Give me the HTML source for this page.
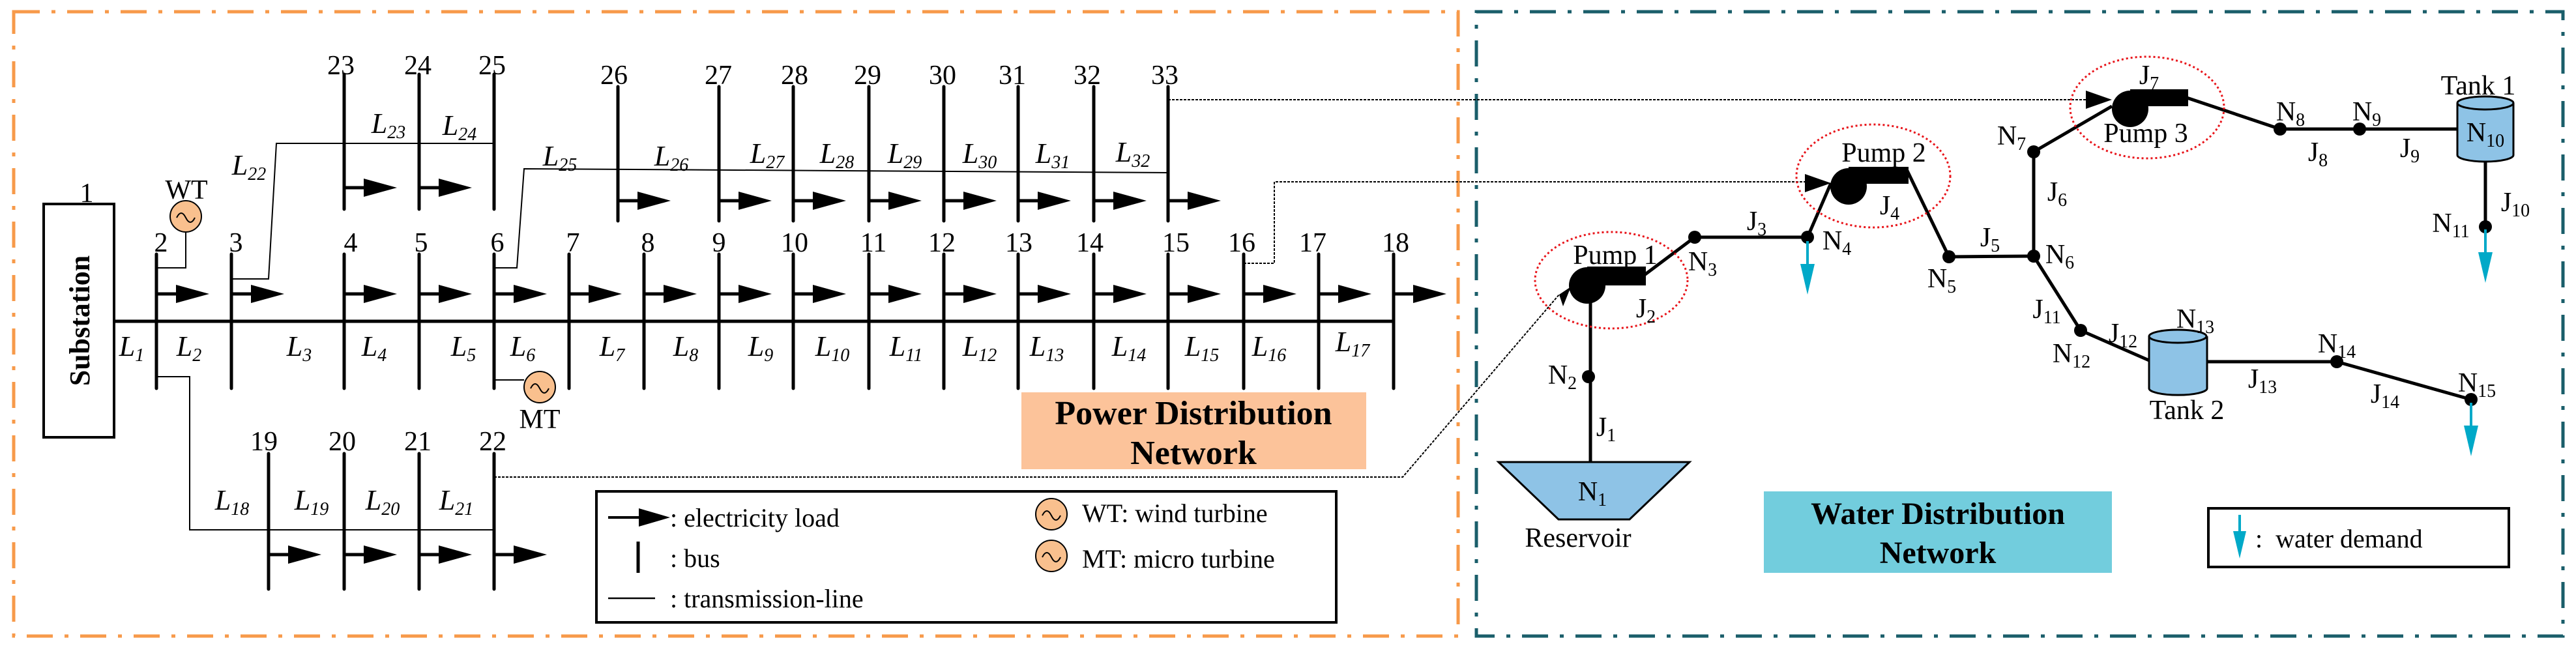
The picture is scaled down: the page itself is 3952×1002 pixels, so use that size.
<!DOCTYPE html>
<html><head><meta charset="utf-8"><style>
html,body{margin:0;padding:0;background:#fff;}
svg{display:block;}
text{font-family:"Liberation Serif",serif;fill:#000;}
.n{font-size:42px;text-anchor:middle;}
.L{font-size:44px;font-style:italic;text-anchor:middle;}
.w{font-size:42px;text-anchor:middle;}
.lg{font-size:40px;}
</style></head><body>
<svg width="3952" height="1002" viewBox="0 0 3952 1002" xmlns="http://www.w3.org/2000/svg">
<defs>
<g id="ar"><line x1="0" y1="0" x2="32" y2="0" stroke="#000" stroke-width="5"/><polygon points="30,-14 81,0 30,14" fill="#000"/></g>
<g id="wd"><line x1="0" y1="0" x2="0" y2="40" stroke="#00a9c8" stroke-width="4"/><polygon points="-11,35 11,35 0,82" fill="#00a9c8"/></g>
</defs>
<rect x="21" y="18" width="2216" height="958" fill="none" stroke="#f79a4a" stroke-width="5" stroke-dasharray="40,18,6,18"/>
<rect x="2265" y="18" width="1667" height="958" fill="none" stroke="#1a5e6a" stroke-width="5" stroke-dasharray="40,18,6,18"/>

<rect x="67" y="313" width="108" height="358" fill="#fff" stroke="#000" stroke-width="4"/>
<text x="0" y="0" transform="translate(137,492) rotate(-90)" style="font-size:44px;font-weight:bold;text-anchor:middle">Substation</text>
<text class="n" x="133" y="310">1</text>

<line x1="175" y1="493" x2="2138" y2="493" stroke="#000" stroke-width="5"/>
<polyline points="240,411 285,411 285,356" fill="none" stroke="#000" stroke-width="2"/>
<polyline points="240,578 291,578 291,813 758,813" fill="none" stroke="#000" stroke-width="2"/>
<polyline points="355,428 412,428 424,220 758,220" fill="none" stroke="#000" stroke-width="2"/>
<polyline points="758,411 793,411 804,259 1792,265" fill="none" stroke="#000" stroke-width="2"/>
<polyline points="758,583 804,583" fill="none" stroke="#000" stroke-width="2"/>
<g fill="none" stroke="#000" stroke-width="2" stroke-dasharray="4,2">
<polyline points="758,732 2152,732 2392,452"/>
<polyline points="1908,404 1955,404 1955,279 2770,279"/>
<polyline points="1792,153 3202,153"/>
</g>

<g stroke="#000" stroke-width="5" stroke-linecap="round">
<line x1="240" y1="390" x2="240" y2="596"/><line x1="355" y1="390" x2="355" y2="596"/>
<line x1="528" y1="390" x2="528" y2="596"/><line x1="643" y1="390" x2="643" y2="596"/>
<line x1="758" y1="390" x2="758" y2="596"/><line x1="873" y1="390" x2="873" y2="596"/>
<line x1="988" y1="390" x2="988" y2="596"/><line x1="1103" y1="390" x2="1103" y2="596"/>
<line x1="1217" y1="390" x2="1217" y2="596"/><line x1="1333" y1="390" x2="1333" y2="596"/>
<line x1="1448" y1="390" x2="1448" y2="596"/><line x1="1562" y1="390" x2="1562" y2="596"/>
<line x1="1678" y1="390" x2="1678" y2="596"/><line x1="1792" y1="390" x2="1792" y2="596"/>
<line x1="1908" y1="390" x2="1908" y2="596"/><line x1="2023" y1="390" x2="2023" y2="596"/>
<line x1="2138" y1="390" x2="2138" y2="596"/>
<line x1="528" y1="114" x2="528" y2="321"/><line x1="643" y1="114" x2="643" y2="321"/><line x1="758" y1="114" x2="758" y2="321"/>
<line x1="948" y1="133" x2="948" y2="339"/><line x1="1103" y1="133" x2="1103" y2="339"/>
<line x1="1217" y1="133" x2="1217" y2="339"/><line x1="1333" y1="133" x2="1333" y2="339"/>
<line x1="1448" y1="133" x2="1448" y2="339"/><line x1="1562" y1="133" x2="1562" y2="339"/>
<line x1="1678" y1="133" x2="1678" y2="339"/><line x1="1792" y1="133" x2="1792" y2="339"/>
<line x1="412" y1="696" x2="412" y2="904"/><line x1="528" y1="696" x2="528" y2="904"/>
<line x1="643" y1="696" x2="643" y2="904"/><line x1="758" y1="696" x2="758" y2="904"/>
</g>
<use href="#ar" x="240" y="451"/><use href="#ar" x="355" y="451"/><use href="#ar" x="528" y="451"/>
<use href="#ar" x="643" y="451"/><use href="#ar" x="758" y="451"/><use href="#ar" x="873" y="451"/>
<use href="#ar" x="988" y="451"/><use href="#ar" x="1103" y="451"/><use href="#ar" x="1217" y="451"/>
<use href="#ar" x="1333" y="451"/><use href="#ar" x="1448" y="451"/><use href="#ar" x="1562" y="451"/>
<use href="#ar" x="1678" y="451"/><use href="#ar" x="1792" y="451"/><use href="#ar" x="1908" y="451"/>
<use href="#ar" x="2023" y="451"/><use href="#ar" x="2138" y="451"/>
<use href="#ar" x="528" y="288"/><use href="#ar" x="643" y="288"/>
<use href="#ar" x="948" y="308"/><use href="#ar" x="1103" y="308"/><use href="#ar" x="1217" y="308"/>
<use href="#ar" x="1333" y="308"/><use href="#ar" x="1448" y="308"/><use href="#ar" x="1562" y="308"/>
<use href="#ar" x="1678" y="308"/><use href="#ar" x="1792" y="308"/>
<use href="#ar" x="412" y="851"/><use href="#ar" x="528" y="851"/><use href="#ar" x="643" y="851"/><use href="#ar" x="758" y="851"/>

<circle cx="285" cy="332" r="24" fill="#f9c08e" stroke="#000" stroke-width="2"/>
<path d="M271,334 q7,-14 14,0 q7,14 14,0" fill="none" stroke="#000" stroke-width="2"/>
<text class="n" x="286" y="305">WT</text>
<circle cx="828" cy="594" r="24" fill="#f9c08e" stroke="#000" stroke-width="2"/>
<path d="M814,596 q7,-14 14,0 q7,14 14,0" fill="none" stroke="#000" stroke-width="2"/>
<text class="n" x="828" y="657">MT</text>

<g>
<text class="n" x="247" y="386">2</text><text class="n" x="362" y="386">3</text><text class="n" x="538" y="386">4</text>
<text class="n" x="646" y="386">5</text><text class="n" x="763" y="386">6</text><text class="n" x="879" y="386">7</text>
<text class="n" x="994" y="386">8</text><text class="n" x="1103" y="386">9</text><text class="n" x="1219" y="386">10</text>
<text class="n" x="1340" y="386">11</text><text class="n" x="1445" y="386">12</text><text class="n" x="1563" y="386">13</text>
<text class="n" x="1672" y="386">14</text><text class="n" x="1804" y="386">15</text><text class="n" x="1905" y="386">16</text>
<text class="n" x="2014" y="386">17</text><text class="n" x="2141" y="386">18</text>
<text class="n" x="523" y="114">23</text><text class="n" x="641" y="114">24</text><text class="n" x="755" y="114">25</text>
<text class="n" x="942" y="129">26</text><text class="n" x="1102" y="129">27</text><text class="n" x="1219" y="129">28</text>
<text class="n" x="1331" y="129">29</text><text class="n" x="1446" y="129">30</text><text class="n" x="1553" y="129">31</text>
<text class="n" x="1668" y="129">32</text><text class="n" x="1787" y="129">33</text>
<text class="n" x="405" y="691">19</text><text class="n" x="525" y="691">20</text><text class="n" x="641" y="691">21</text><text class="n" x="756" y="691">22</text>
</g>

<g>
<text class="L" x="202" y="546">L<tspan font-size="28" dy="8">1</tspan></text>
<text class="L" x="290" y="546">L<tspan font-size="28" dy="8">2</tspan></text>
<text class="L" x="459" y="546">L<tspan font-size="28" dy="8">3</tspan></text>
<text class="L" x="574" y="546">L<tspan font-size="28" dy="8">4</tspan></text>
<text class="L" x="711" y="546">L<tspan font-size="28" dy="8">5</tspan></text>
<text class="L" x="802" y="546">L<tspan font-size="28" dy="8">6</tspan></text>
<text class="L" x="939" y="546">L<tspan font-size="28" dy="8">7</tspan></text>
<text class="L" x="1052" y="546">L<tspan font-size="28" dy="8">8</tspan></text>
<text class="L" x="1167" y="546">L<tspan font-size="28" dy="8">9</tspan></text>
<text class="L" x="1277" y="546">L<tspan font-size="28" dy="8">10</tspan></text>
<text class="L" x="1390" y="546">L<tspan font-size="28" dy="8">11</tspan></text>
<text class="L" x="1503" y="546">L<tspan font-size="28" dy="8">12</tspan></text>
<text class="L" x="1606" y="546">L<tspan font-size="28" dy="8">13</tspan></text>
<text class="L" x="1732" y="546">L<tspan font-size="28" dy="8">14</tspan></text>
<text class="L" x="1844" y="546">L<tspan font-size="28" dy="8">15</tspan></text>
<text class="L" x="1947" y="546">L<tspan font-size="28" dy="8">16</tspan></text>
<text class="L" x="2075" y="539">L<tspan font-size="28" dy="8">17</tspan></text>
<text class="L" x="356" y="782">L<tspan font-size="28" dy="8">18</tspan></text>
<text class="L" x="478" y="782">L<tspan font-size="28" dy="8">19</tspan></text>
<text class="L" x="587" y="782">L<tspan font-size="28" dy="8">20</tspan></text>
<text class="L" x="700" y="782">L<tspan font-size="28" dy="8">21</tspan></text>
<text class="L" x="382" y="268">L<tspan font-size="28" dy="8">22</tspan></text>
<text class="L" x="596" y="204">L<tspan font-size="28" dy="8">23</tspan></text>
<text class="L" x="705" y="207">L<tspan font-size="28" dy="8">24</tspan></text>
<text class="L" x="859" y="254">L<tspan font-size="28" dy="8">25</tspan></text>
<text class="L" x="1030" y="254">L<tspan font-size="28" dy="8">26</tspan></text>
<text class="L" x="1177" y="250">L<tspan font-size="28" dy="8">27</tspan></text>
<text class="L" x="1284" y="250">L<tspan font-size="28" dy="8">28</tspan></text>
<text class="L" x="1388" y="250">L<tspan font-size="28" dy="8">29</tspan></text>
<text class="L" x="1503" y="250">L<tspan font-size="28" dy="8">30</tspan></text>
<text class="L" x="1615" y="250">L<tspan font-size="28" dy="8">31</tspan></text>
<text class="L" x="1738" y="248">L<tspan font-size="28" dy="8">32</tspan></text>
</g>

<rect x="1567" y="602" width="529" height="118" fill="#fcc39a"/>
<text x="1831" y="651" style="font-size:52px;font-weight:bold;text-anchor:middle">Power Distribution</text>
<text x="1831" y="712" style="font-size:52px;font-weight:bold;text-anchor:middle">Network</text>

<rect x="915" y="754" width="1135" height="201" fill="#fff" stroke="#000" stroke-width="4"/>
<line x1="933" y1="794" x2="985" y2="794" stroke="#000" stroke-width="4"/>
<polygon points="980,780 1028,794 980,808" fill="#000"/>
<text class="lg" x="1028" y="808">: electricity load</text>
<line x1="979" y1="831" x2="979" y2="879" stroke="#000" stroke-width="5"/>
<text class="lg" x="1028" y="870">: bus</text>
<line x1="933" y1="918" x2="1005" y2="918" stroke="#000" stroke-width="2.5"/>
<text class="lg" x="1028" y="932">: transmission-line</text>
<circle cx="1613" cy="789" r="24" fill="#f9c08e" stroke="#000" stroke-width="2"/>
<path d="M1599,791 q7,-14 14,0 q7,14 14,0" fill="none" stroke="#000" stroke-width="2"/>
<text class="lg" x="1660" y="801">WT: wind turbine</text>
<circle cx="1613" cy="853" r="24" fill="#f9c08e" stroke="#000" stroke-width="2"/>
<path d="M1599,855 q7,-14 14,0 q7,14 14,0" fill="none" stroke="#000" stroke-width="2"/>
<text class="lg" x="1660" y="871">MT: micro turbine</text>

<g stroke="#000" stroke-width="5" fill="none">
<line x1="2440" y1="709" x2="2440" y2="455"/>
<line x1="2520" y1="424" x2="2600" y2="364"/>
<line x1="2600" y1="364" x2="2773" y2="364"/>
<line x1="2773" y1="364" x2="2809" y2="281"/>
<line x1="2926" y1="262" x2="2990" y2="394"/>
<line x1="2990" y1="394" x2="3120" y2="393"/>
<line x1="3120" y1="393" x2="3120" y2="233"/>
<line x1="3120" y1="233" x2="3240" y2="163"/>
<line x1="3355" y1="150" x2="3498" y2="198"/>
<line x1="3498" y1="198" x2="3772" y2="198"/>
<line x1="3813" y1="238" x2="3813" y2="348"/>
<line x1="3120" y1="393" x2="3192" y2="507"/>
<line x1="3192" y1="507" x2="3297" y2="553"/>
<line x1="3386" y1="555" x2="3585" y2="555"/>
<line x1="3585" y1="555" x2="3791" y2="613"/>
</g>
<polygon points="2299,709 2592,709 2500,797 2391,797" fill="#8ec3e6" stroke="#000" stroke-width="3"/>
<text class="w" x="2443" y="768">N<tspan font-size="28" dy="8">1</tspan></text>
<text class="w" x="2421" y="839">Reservoir</text>
<g fill="#000">
<circle cx="2437" cy="578" r="10"/><circle cx="2600" cy="364" r="10"/><circle cx="2773" cy="364" r="10"/>
<circle cx="2990" cy="394" r="10"/><circle cx="3120" cy="393" r="10"/><circle cx="3120" cy="233" r="10"/>
<circle cx="3498" cy="198" r="10"/><circle cx="3620" cy="198" r="10"/><circle cx="3813" cy="348" r="10"/>
<circle cx="3192" cy="507" r="10"/><circle cx="3585" cy="555" r="10"/><circle cx="3791" cy="613" r="10"/>
</g>
<g fill="#000">
<circle cx="2435" cy="438" r="28"/><rect x="2435" y="409" width="90" height="29"/>
<polygon points="2392,452 2410,440 2398,470"/>
<circle cx="2836" cy="286" r="28"/><rect x="2836" y="256" width="92" height="26"/>
<polygon points="2769,267 2809,281 2769,295"/>
<circle cx="3268" cy="167" r="28"/><rect x="3268" y="137" width="89" height="26"/>
<polygon points="3200,139 3240,153 3200,167"/>
</g>
<g fill="none" stroke="#e8141a" stroke-width="3" stroke-dasharray="3,4">
<ellipse cx="2472" cy="430" rx="117" ry="74"/>
<ellipse cx="2874" cy="270" rx="118" ry="79"/>
<ellipse cx="3294" cy="165" rx="118" ry="78"/>
</g>
<g fill="#8ec3e6" stroke="#000" stroke-width="3">
<path d="M3770,158 v80 a43,10 0 0 0 86,0 v-80"/>
<ellipse cx="3813" cy="158" rx="43" ry="10"/>
<path d="M3297,516 v80 a44,10 0 0 0 89,0 v-80"/>
<ellipse cx="3341" cy="516" rx="44" ry="10"/>
</g>
<use href="#wd" x="2773" y="370"/>
<use href="#wd" x="3813" y="352"/>
<use href="#wd" x="3791" y="618"/>
<g>
<text class="w" x="2478" y="405">Pump 1</text>
<text class="w" x="2890" y="248">Pump 2</text>
<text class="w" x="3292" y="218">Pump 3</text>
<text class="w" x="3802" y="145">Tank 1</text>
<text class="w" x="3355" y="643">Tank 2</text>
<text class="w" x="2397" y="589">N<tspan font-size="28" dy="8">2</tspan></text>
<text class="w" x="2612" y="415">N<tspan font-size="28" dy="8">3</tspan></text>
<text class="w" x="2818" y="383">N<tspan font-size="28" dy="8">4</tspan></text>
<text class="w" x="2979" y="441">N<tspan font-size="28" dy="8">5</tspan></text>
<text class="w" x="3160" y="404">N<tspan font-size="28" dy="8">6</tspan></text>
<text class="w" x="3086" y="222">N<tspan font-size="28" dy="8">7</tspan></text>
<text class="w" x="3514" y="185">N<tspan font-size="28" dy="8">8</tspan></text>
<text class="w" x="3631" y="185">N<tspan font-size="28" dy="8">9</tspan></text>
<text class="w" x="3813" y="217">N<tspan font-size="28" dy="8">10</tspan></text>
<text class="w" x="3760" y="356">N<tspan font-size="28" dy="8">11</tspan></text>
<text class="w" x="3178" y="556">N<tspan font-size="28" dy="8">12</tspan></text>
<text class="w" x="3368" y="503">N<tspan font-size="28" dy="8">13</tspan></text>
<text class="w" x="3585" y="541">N<tspan font-size="28" dy="8">14</tspan></text>
<text class="w" x="3800" y="601">N<tspan font-size="28" dy="8">15</tspan></text>
<text class="w" x="2464" y="669">J<tspan font-size="28" dy="8">1</tspan></text>
<text class="w" x="2525" y="487">J<tspan font-size="28" dy="8">2</tspan></text>
<text class="w" x="2695" y="353">J<tspan font-size="28" dy="8">3</tspan></text>
<text class="w" x="2899" y="329">J<tspan font-size="28" dy="8">4</tspan></text>
<text class="w" x="3053" y="378">J<tspan font-size="28" dy="8">5</tspan></text>
<text class="w" x="3156" y="308">J<tspan font-size="28" dy="8">6</tspan></text>
<text class="w" x="3297" y="129">J<tspan font-size="28" dy="8">7</tspan></text>
<text class="w" x="3556" y="247">J<tspan font-size="28" dy="8">8</tspan></text>
<text class="w" x="3697" y="241">J<tspan font-size="28" dy="8">9</tspan></text>
<text class="w" x="3859" y="324">J<tspan font-size="28" dy="8">10</tspan></text>
<text class="w" x="3140" y="488">J<tspan font-size="28" dy="8">11</tspan></text>
<text class="w" x="3257" y="525">J<tspan font-size="28" dy="8">12</tspan></text>
<text class="w" x="3471" y="595">J<tspan font-size="28" dy="8">13</tspan></text>
<text class="w" x="3659" y="618">J<tspan font-size="28" dy="8">14</tspan></text>
</g>
<rect x="2706" y="754" width="534" height="125" fill="#72cddd"/>
<text x="2973" y="804" style="font-size:48px;font-weight:bold;text-anchor:middle">Water Distribution</text>
<text x="2973" y="864" style="font-size:48px;font-weight:bold;text-anchor:middle">Network</text>
<rect x="3388" y="780" width="461" height="90" fill="#fff" stroke="#000" stroke-width="4"/>
<line x1="3436" y1="790" x2="3436" y2="825" stroke="#00a9c8" stroke-width="4"/>
<polygon points="3426,815 3446,815 3436,857" fill="#00a9c8"/>
<text class="lg" x="3460" y="840" style="font-size:40px">:&#160;&#160;water demand</text>
</svg>
</body></html>
